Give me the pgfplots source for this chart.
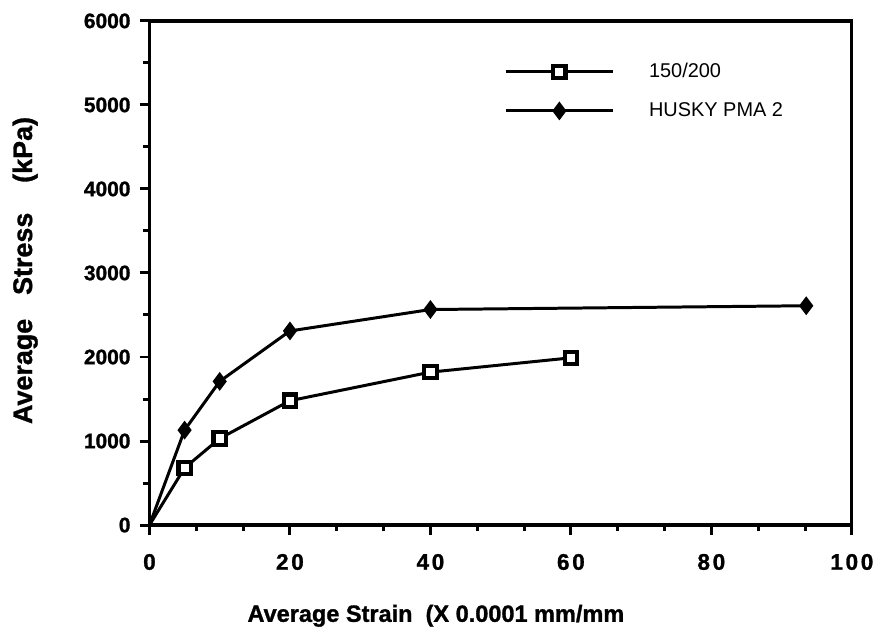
\documentclass[border=0pt]{standalone}
\usepackage{fontspec}
\setmainfont{Liberation Sans}[BoldFeatures={FakeBold=1.2}]
\newfontfamily\spaced{Liberation Sans}[LetterSpace=12, BoldFeatures={FakeBold=1.2}]
\usepackage{pgfplots}
\pgfplotsset{compat=1.18}
\begin{document}
\begin{tikzpicture}
\begin{axis}[
  scale only axis,
  width=352.5pt, height=253pt,
  xmin=0, xmax=100, ymin=0, ymax=6000,
  xtick={0,20,40,60,80,100},
  ytick={0,1000,2000,3000,4000,5000,6000},
  minor x tick num=2,
  minor y tick num=1,
  tick align=outside,
  major tick length=5pt,
  minor tick length=3pt,
  xtick pos=bottom, ytick pos=left,
  axis line style={line width=1.6pt},
  every tick/.style={line width=1.5pt, black},
  every minor tick/.style={line width=1.5pt, black},
  /pgf/number format/assume math mode=true,
  scaled y ticks=false,
  yticklabel style={font=\bfseries\fontsize{10.5}{12}\selectfont, xshift=-1pt},
  xticklabel style={font=\spaced\bfseries\fontsize{11.3}{12}\selectfont, yshift=-6pt},
  y tick label style={/pgf/number format/1000 sep={}},
  clip=false,
  legend style={draw=none, fill=none, anchor=north west, at={(rel axis cs:0.505,0.925)},
    font=\fontsize{10}{12}\selectfont, inner sep=0pt, row sep=7pt,
    nodes={inner sep=2pt}},
  legend cell align=left,
  legend image code/.code={
    \draw[line width=1.5pt, mark indices={2}] plot coordinates {(0pt,0pt)(26.75pt,0pt)(53.5pt,0pt)};
    \path (69pt,0pt);
  },
]
\addplot[black, line width=1.5pt, mark=square*, mark size=3.1pt,
  mark options={fill=white, draw=black, line width=2.1pt}, mark indices={2,3,4,5,6}]
  coordinates {(0,0) (5,680) (10,1030) (20,1480) (40,1820) (60,1990)};
\addlegendentry{150/200}
\addplot[black, line width=1.5pt, mark=diamond*, mark size=3.5pt,
  mark options={fill=black, draw=black}, mark indices={2,3,4,5,6}]
  coordinates {(0,0) (5,1130) (10,1710) (20,2310) (40,2565) (93.5,2610)};
\addlegendentry{HUSKY PMA 2}
\node[rotate=90, font=\bfseries\fontsize{13.5}{14}\selectfont] at (rel axis cs:-0.177,0.505) {Average\hspace{12pt}Stress\hspace{15pt}(kPa)};
\node[font=\bfseries\fontsize{11.8}{13}\selectfont, anchor=west, inner sep=0pt] at (rel axis cs:0.139,-0.180) {Average Strain\ \ (X 0.0001 mm/mm};
\path (rel axis cs:-0.2128,-0.2154) rectangle (rel axis cs:1.0355,1.0415);
\end{axis}
\end{tikzpicture}
\end{document}
